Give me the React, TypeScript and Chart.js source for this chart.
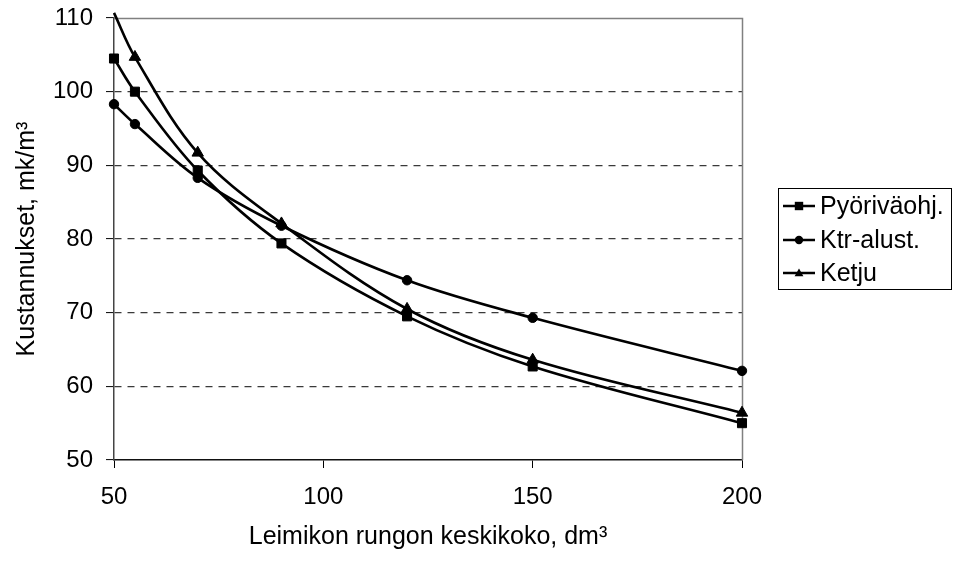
import React, { useEffect, useRef } from 'react';
import { Chart, registerables } from 'chart.js';

Chart.register(...registerables);

// Average stem size of the stand (dm³)
const stemSizes = [50, 55, 70, 90, 120, 150, 200];

// Costs per harvesting method (mk/m³)
const pyorivaohj = [104.5, 100.0, 89.3, 79.4, 69.5, 62.7, 55.0];
const ktrAlust = [98.3, 95.6, 88.3, 81.8, 74.4, 69.3, 62.1];
const ketju = [110.7, 104.7, 91.7, 82.1, 70.5, 63.6, 56.4];

const seriesNames = ['Pyöriväohj.', 'Ktr-alust.', 'Ketju'];
const markerStyles = ['rect', 'circle', 'triangle'] as const;

const xTicks = [50, 100, 150, 200];
const yTicks = [50, 60, 70, 80, 90, 100, 110];

const FONT = "'Liberation Sans', Arial, sans-serif";
const Y_MIN = yTicks[0];
const Y_MAX = yTicks[yTicks.length - 1];

function drawMarker(ctx: CanvasRenderingContext2D, style: string, x: number, y: number, r: number) {
  ctx.beginPath();
  if (style === 'rect') {
    ctx.rect(x - r, y - r, 2 * r, 2 * r);
  } else if (style === 'circle') {
    ctx.arc(x, y, r, 0, Math.PI * 2);
  } else {
    ctx.moveTo(x, y - r * 1.1);
    ctx.lineTo(x + r * 1.05, y + r * 0.75);
    ctx.lineTo(x - r * 1.05, y + r * 0.75);
    ctx.closePath();
  }
  ctx.fill();
}

// Plot-area frame (top and right edges) and the boxed legend on the right
const framePlugin = {
  id: 'frameAndLegend',
  beforeDatasetsDraw(chart: any) {
    const { ctx, chartArea } = chart;
    ctx.save();
    ctx.strokeStyle = '#808080';
    ctx.lineWidth = 1.5;
    ctx.beginPath();
    ctx.moveTo(chartArea.left, chartArea.top + 0.5);
    ctx.lineTo(chartArea.right + 0.5, chartArea.top + 0.5);
    ctx.lineTo(chartArea.right + 0.5, chartArea.bottom);
    ctx.stroke();
    ctx.restore();
  },
  afterDraw(chart: any) {
    const { ctx } = chart;
    const boxLeft = 778.5;
    const boxTop = 188.5;
    const boxW = 173;
    const boxH = 101;
    ctx.save();
    ctx.fillStyle = '#fff';
    ctx.fillRect(boxLeft, boxTop, boxW, boxH);
    ctx.strokeStyle = '#000';
    ctx.lineWidth = 1;
    ctx.strokeRect(boxLeft, boxTop, boxW, boxH);
    const rows = [206, 240, 273];
    seriesNames.forEach((name, i) => {
      const y = rows[i];
      ctx.strokeStyle = '#000';
      ctx.lineWidth = 2.5;
      ctx.beginPath();
      ctx.moveTo(783, y);
      ctx.lineTo(815, y);
      ctx.stroke();
      ctx.fillStyle = '#000';
      drawMarker(ctx, markerStyles[i], 799, y, 4.2);
      ctx.font = `25px ${FONT}`;
      ctx.textBaseline = 'middle';
      ctx.textAlign = 'left';
      ctx.fillText(name, 820, y + 1);
    });
    ctx.restore();
  },
};

const series = [pyorivaohj, ktrAlust, ketju];
const radii = [6.4, 4.7, 6.6];

export default function App() {
  const canvasRef = useRef<HTMLCanvasElement | null>(null);

  useEffect(() => {
    const canvas = canvasRef.current;
    if (!canvas) return;

    const datasets = series.map((values, i) => ({
      label: seriesNames[i],
      data: stemSizes.map((x, j) => ({ x, y: values[j] })),
      borderColor: '#000',
      backgroundColor: '#000',
      borderWidth: 2.6,
      tension: 0.35,
      pointStyle: markerStyles[i],
      pointRadius: (c: any) => (c.parsed && c.parsed.y > Y_MAX ? 0 : radii[i]),
      pointBackgroundColor: '#000',
      pointBorderColor: '#000',
      pointBorderWidth: 1,
      clip: 10,
    }));

    const chart = new Chart(canvas, {
      type: 'line',
      data: { datasets },
      options: {
        animation: false,
        responsive: false,
        devicePixelRatio: 1,
        events: [],
        layout: { padding: { left: 0, top: 18, right: 211, bottom: 0 } },
        plugins: {
          legend: { display: false },
          tooltip: { enabled: false },
        },
        scales: {
          x: {
            type: 'linear',
            min: xTicks[0],
            max: xTicks[xTicks.length - 1],
            afterBuildTicks: (axis: any) => {
              axis.ticks = xTicks.map((v) => ({ value: v }));
            },
            afterFit: (axis: any) => {
              axis.height = 101;
              axis.paddingLeft = 0;
              axis.paddingRight = 0;
            },
            grid: {
              drawOnChartArea: false,
              drawTicks: true,
              tickLength: 8,
              tickColor: '#000',
              tickWidth: 1,
            },
            border: { display: true, color: '#111', width: 1.5 },
            ticks: {
              color: '#000',
              font: { family: FONT, size: 24 },
              padding: 15,
              maxRotation: 0,
              autoSkip: false,
            },
            title: {
              display: true,
              text: 'Leimikon rungon keskikoko, dm³',
              color: '#000',
              font: { family: FONT, size: 25 },
              padding: { top: 0, bottom: 9 },
            },
          },
          y: {
            type: 'linear',
            min: Y_MIN,
            max: Y_MAX,
            afterBuildTicks: (axis: any) => {
              axis.ticks = yTicks.map((v) => ({ value: v }));
            },
            afterFit: (axis: any) => {
              axis.width = 114;
              axis.paddingTop = 0;
              axis.paddingBottom = 0;
            },
            grid: {
              drawOnChartArea: true,
              drawTicks: true,
              tickLength: 8,
              color: (c: any) =>
                c.tick && (c.tick.value === Y_MIN || c.tick.value === Y_MAX) ? 'rgba(0,0,0,0)' : '#3a3a3a',
              lineWidth: 1.2,
              tickColor: '#000',
              tickWidth: 1,
              tickBorderDash: [],
            },
            border: { display: true, color: '#444', width: 1.5, dash: [7, 6] },
            ticks: {
              color: '#000',
              font: { family: FONT, size: 24 },
              padding: 13,
              autoSkip: false,
            },
            title: {
              display: true,
              text: 'Kustannukset, mk/m³',
              color: '#000',
              font: { family: FONT, size: 25 },
              padding: { top: 12, bottom: 0 },
            },
          },
        },
      },
      plugins: [framePlugin],
    });

    return () => chart.destroy();
  }, []);

  return (
    <div style={{ position: 'absolute', left: 0, top: 0, width: 953, height: 561, background: '#fff' }}>
      <canvas ref={canvasRef} width={953} height={561} style={{ display: 'block' }} />
    </div>
  );
}
